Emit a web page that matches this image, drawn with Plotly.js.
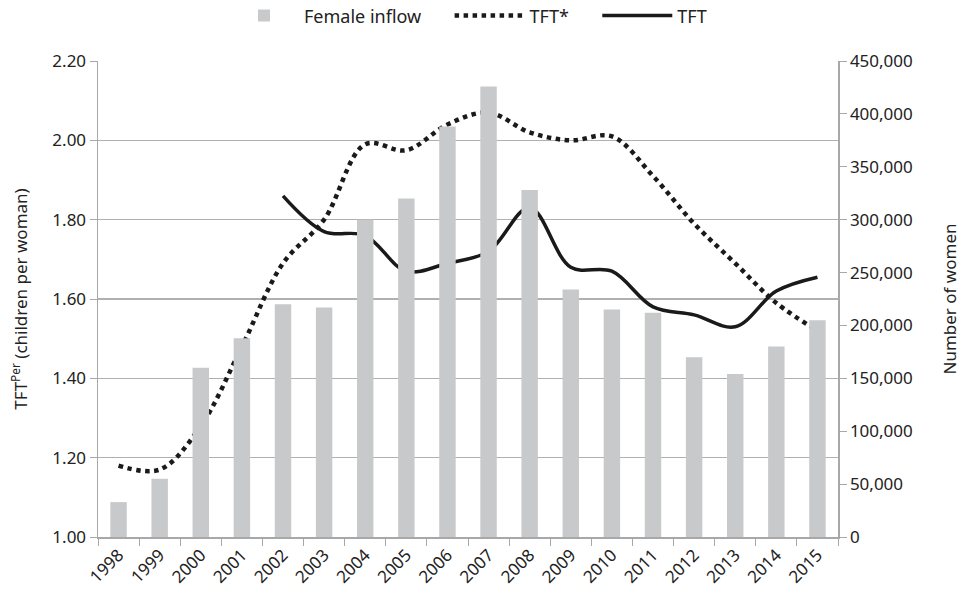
<!DOCTYPE html>
<html>
<head>
<meta charset="utf-8">
<script src="https://cdn.plot.ly/plotly-3.0.1.min.js"></script>
<style>html,body{margin:0;padding:0;background:#fff}#chart{width:968px;height:603px}</style>
</head>
<body>
<div id="chart"></div>
<script>
const years = ["1998","1999","2000","2001","2002","2003","2004","2005","2006","2007","2008","2009","2010","2011","2012","2013","2014","2015"];
const femaleInflow = [33000,55000,160000,188000,220000,217000,300000,320000,388000,426000,328000,234000,215000,212000,170000,154000,180000,205000];
const tftStar = [1.18,1.17,1.28,1.48,1.69,1.80,1.99,1.975,2.04,2.07,2.02,2.00,2.01,1.91,1.79,1.69,1.59,1.52];
const tftYears = ["2002","2003","2004","2005","2006","2007","2008","2009","2010","2011","2012","2013","2014","2015"];
const tft = [1.86,1.77,1.76,1.67,1.69,1.72,1.83,1.68,1.67,1.58,1.56,1.53,1.62,1.655];
const leftTicks = [1.0,1.2,1.4,1.6,1.8,2.0,2.2];
const rightTicks = [0,50000,100000,150000,200000,250000,300000,350000,400000,450000];

const font = "Noto Sans, Open Sans, sans-serif";
const sp = "\u00a0\u00a0\u00a0\u00a0\u00a0";
const traces = [
  {type:"bar", name:"Female inflow" + sp, x:years, y:femaleInflow, yaxis:"y2",
   marker:{color:"#c8c9cb"}, width:0.4},
  {type:"scatter", mode:"lines", name:"TFT*" + sp, x:years, y:tftStar,
   line:{color:"#1a1a1a", width:4.5, dash:"dot", shape:"spline", smoothing:1}},
  {type:"scatter", mode:"lines", name:"TFT", x:tftYears, y:tft,
   line:{color:"#1a1a1a", width:3.5, shape:"spline", smoothing:1}}
];
const layout = {
  width:968, height:603,
  margin:{l:98, r:130, t:61, b:66, autoexpand:false},
  paper_bgcolor:"#fff", plot_bgcolor:"#fff",
  font:{family:font, size:17, color:"#222"},
  showlegend:true,
  legend:{orientation:"h", x:0.5, xanchor:"center", y:1.095, yanchor:"middle",
          font:{size:18}, itemwidth:70, traceorder:"normal"},
  bargap:0.6,
  xaxis:{type:"category", categoryorder:"array", categoryarray:years,
         tickangle:-45, showgrid:false, showline:true, linecolor:"#a8a8a8", linewidth:1.5,
         ticks:"outside", tickson:"boundaries", ticklen:7, tickcolor:"#a8a8a8",
         tickfont:{size:17}, range:[-0.5,17.5]},
  yaxis:{range:[1.0,2.2], tickvals:leftTicks, ticktext:leftTicks.map(v=>v.toFixed(2)),
         showgrid:true, gridcolor:"#b0b0b0", gridwidth:1.5, zeroline:false,
         showline:true, linecolor:"#a8a8a8", linewidth:1.5, ticks:"outside", ticklen:7, tickcolor:"#a8a8a8",
         tickfont:{size:17},
         title:{text:"TFT<sup>Per</sup> (children per woman)", font:{size:17}, standoff:20}},
  yaxis2:{overlaying:"y", side:"right", range:[0,450000], tickvals:rightTicks,
          ticktext:rightTicks.map(v=>v.toLocaleString("en-US")),
          showgrid:false, zeroline:false, showline:true, linecolor:"#a8a8a8", linewidth:1.5,
          ticks:"outside", ticklen:7, tickcolor:"#a8a8a8", tickfont:{size:17},
          title:{text:"Number of women", font:{size:17}, standoff:32}}
};
Plotly.newPlot("chart", traces, layout, {displayModeBar:false, staticPlot:true});
</script>
</body>
</html>
